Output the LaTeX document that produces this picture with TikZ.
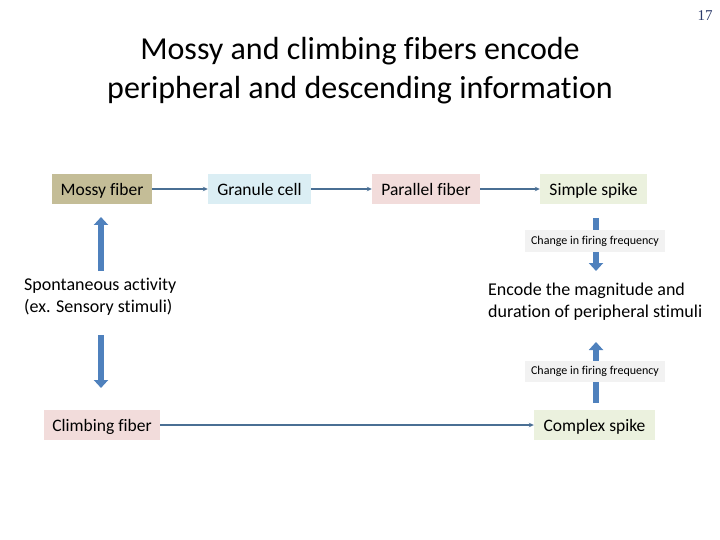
\documentclass[tikz,border=0pt]{standalone}
\usepackage{fontspec}
\setmainfont{Carlito}[Ligatures=NoCommon]
\newfontfamily\numfont{Liberation Serif}
\usetikzlibrary{arrows.meta}
\definecolor{tanc}{HTML}{C4BD97}
\definecolor{bluec}{HTML}{DBEEF4}
\definecolor{pinkc}{HTML}{F2DCDB}
\definecolor{greenc}{HTML}{EBF1DE}
\definecolor{grayc}{HTML}{F2F2F2}
\definecolor{linec}{HTML}{4A6F94}
\definecolor{blockc}{HTML}{4F81BD}
\definecolor{numc}{HTML}{2B3A6B}
\tikzset{
  box/.style={minimum height=30pt, inner sep=0pt, text height=14.5pt, text depth=1.5pt, font=\fontsize{17.5}{20}\selectfont},
  smallbox/.style={fill=grayc, minimum width=140pt, minimum height=21pt, inner sep=0pt, text height=9pt, text depth=2.5pt, font=\fontsize{12}{14}\selectfont},
  conn/.style={draw=linec, line width=1.4pt, -{Stealth[length=5pt,width=4.5pt]}},
  blockarrow/.style={draw=blockc, line width=6pt, -{Triangle[width=14pt,length=8pt]}},
  plain/.style={font=\fontsize{18}{22}\selectfont, align=left, inner sep=0pt}
}
\begin{document}
\begin{tikzpicture}[x=1pt,y=-1pt]
\useasboundingbox (0,0) rectangle (720,540);
\node[font=\fontsize{32}{39}\selectfont, align=center] (title) at (360,70.5) {Mossy and climbing fibers encode\\peripheral and descending information};
\node[font=\numfont\fontsize{15}{17}\selectfont, text=numc] (num) at (705,16) {17};

\node[box, fill=tanc, minimum width=100pt] (mossy) at (102,189) {Mossy fiber};
\node[box, fill=bluec, minimum width=103pt] (granule) at (259.5,189) {Granule cell};
\node[box, fill=pinkc, minimum width=108pt] (parallel) at (426,189) {Parallel fiber};
\node[box, fill=greenc, minimum width=107pt] (simple) at (593.5,189) {Simple spike};
\node[box, fill=pinkc, minimum width=116pt] (climbing) at (102,425) {Climbing fiber};
\node[box, fill=greenc, minimum width=121pt] (complex) at (594.5,425) {Complex spike};

\draw[conn] (mossy) -- (granule);
\draw[conn] (granule) -- (parallel);
\draw[conn] (parallel) -- (simple);
\draw[conn] (climbing) -- (complex);

% left block arrows
\coordinate (lu1) at (101,271);
\coordinate (lu2) at (101,217);
\coordinate (ld1) at (101,335);
\coordinate (ld2) at (101,388);
\draw[blockarrow] (lu1) -- (lu2);
\draw[blockarrow] (ld1) -- (ld2);

% right block arrows
\coordinate (ru1) at (596,218);
\coordinate (ru2) at (596,271);
\coordinate (rd1) at (596,403);
\coordinate (rd2) at (596,342);
\draw[blockarrow] (ru1) -- (ru2);
\draw[blockarrow] (rd1) -- (rd2);

\node[smallbox] (chg1) at (595,241) {Change in firing frequency};
\node[smallbox] (chg2) at (595,371.5) {Change in firing frequency};

\node[plain, anchor=west] (spont) at (24,297) {Spontaneous activity\\(ex. Sensory stimuli)};
\node[plain, anchor=west] (encode) at (488,302) {Encode the magnitude and\\duration of peripheral stimuli};
\end{tikzpicture}
\end{document}
